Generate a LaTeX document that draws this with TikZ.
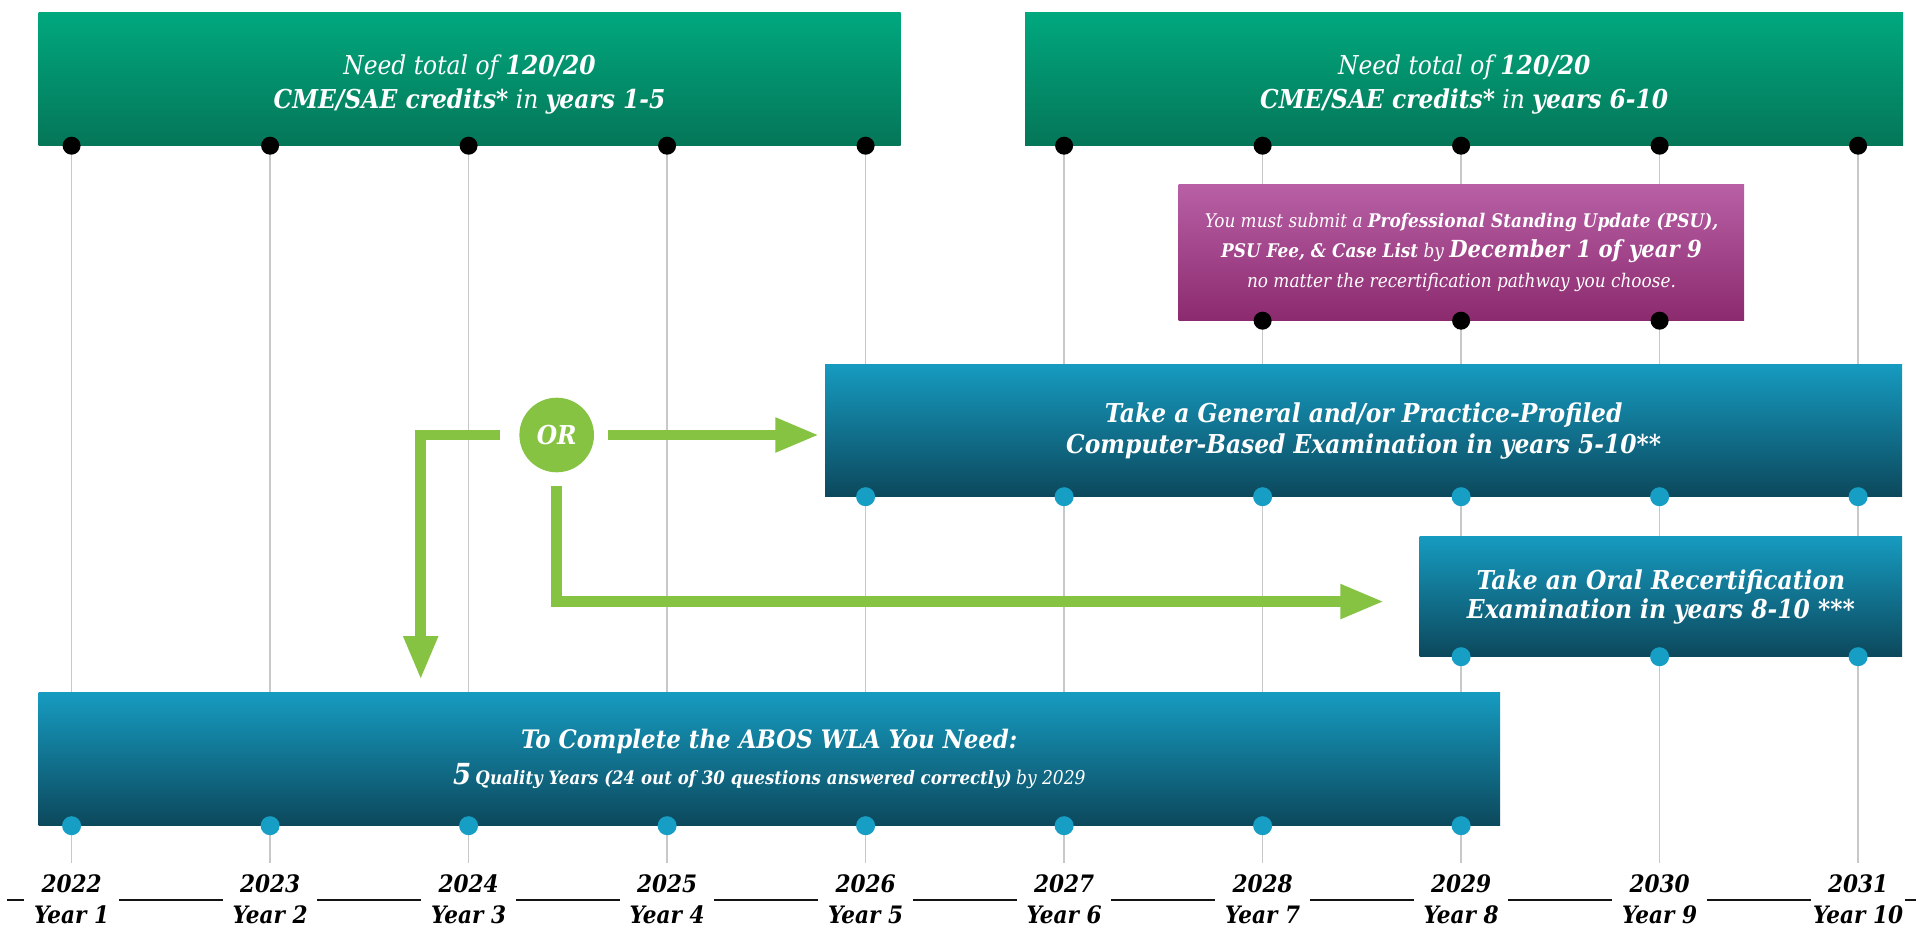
\documentclass[tikz,border=0pt]{standalone}
\usepackage{fontspec}
\setmainfont{DejaVu Serif Condensed}
\usetikzlibrary{arrows.meta,calc}
\definecolor{gtop}{RGB}{0,168,126}
\definecolor{gbot}{RGB}{5,118,88}
\definecolor{ptop}{RGB}{184,96,166}
\definecolor{pbot}{RGB}{140,42,110}
\definecolor{btop}{RGB}{22,155,192}
\definecolor{bbot}{RGB}{12,72,92}
\definecolor{bdot}{RGB}{22,158,196}
\definecolor{garr}{RGB}{134,195,66}
\definecolor{gline}{RGB}{200,200,200}
\definecolor{baseln}{RGB}{20,20,20}
\begin{document}
\begin{tikzpicture}[x=1pt,y=-1pt,
  box/.style={rectangle, inner sep=0pt, anchor=north west, text=white, align=center},
  greenbox/.style={box, top color=gtop, bottom color=gbot, minimum height=133pt, font=\fontsize{26}{34}\selectfont\itshape},
  purplebox/.style={box, top color=ptop, bottom color=pbot, font=\fontsize{18.8}{30}\selectfont\itshape},
  bluebox/.style={box, top color=btop, bottom color=bbot, font=\fontsize{25.5}{36}\selectfont\bfseries\itshape},
  blackdot/.style={circle, fill=black, minimum size=18pt, inner sep=0pt},
  bluedot/.style={circle, fill=bdot, minimum size=19pt, inner sep=0pt},
  gridline/.style={draw=gline, line width=1.5pt},
  baseseg/.style={draw=baseln, line width=2pt},
  yearlabel/.style={font=\fontsize{24}{31}\selectfont\bfseries\itshape, align=center, minimum width=94pt, inner sep=0pt},
  garrow/.style={draw=garr, line width=10.7pt, line join=miter, -{Triangle[length=44pt,width=32pt]}},
  ornode/.style={circle, fill=garr, minimum size=74.6pt, inner sep=0pt, text=white, font=\fontsize{26}{26}\selectfont\bfseries\itshape}
]
\fill[white] (0,0) rectangle (1916,927);
\useasboundingbox (0,0) rectangle (1916,927);

% grid lines
\foreach \i in {0,...,9}{
  \pgfmathsetmacro\cx{71.6+198.5*\i}
  \coordinate (gt\i) at (\cx,145.7);
  \coordinate (gb\i) at (\cx,862.7);
  \draw[gridline] (gt\i) -- (gb\i);
}

% boxes
\node[greenbox, minimum width=862pt] (g1) at (38.3,12.7)
  {\rule{0pt}{30pt}Need total of \textbf{120/20}\\\textbf{CME/SAE credits*} in \textbf{years 1-5}};
\node[greenbox, minimum width=878pt] (g2) at (1025,12.7)
  {\rule{0pt}{30pt}Need total of \textbf{120/20}\\\textbf{CME/SAE credits*} in \textbf{years 6-10}};
\node[purplebox, minimum width=565.5pt, minimum height=136.7pt] (psu) at (1178.5,184)
  {You must submit a \textbf{Professional Standing Update (PSU),}\\
   \textbf{PSU Fee, \& Case List} by {\fontsize{23.5}{29}\selectfont\bfseries December 1 of year 9}\\
   no matter the recertification pathway you choose.};
\node[bluebox, minimum width=1077pt, minimum height=132.7pt, font=\fontsize{26}{31}\selectfont\bfseries\itshape] (cbt) at (825,364)
  {Take a General and/or Practice-Profiled\\Computer-Based Examination in years 5-10**};
\node[bluebox, minimum width=482.7pt, minimum height=120.7pt, font=\fontsize{26}{29}\selectfont\bfseries\itshape] (oral) at (1419.3,536)
  {Take an Oral Recertification\\Examination in years 8-10 ***};
\node[bluebox, minimum width=1461.7pt, minimum height=133pt] (wla) at (38.3,692.7)
  {To Complete the ABOS WLA You Need:\\
   {\fontsize{29}{30}\selectfont 5}\,{\fontsize{18.5}{20}\selectfont Quality Years (24 out of 30 questions answered correctly)}\,{\fontsize{19}{20}\selectfont\mdseries by 2029}};

% dots
\foreach \i in {0,...,9}{
  \pgfmathsetmacro\cx{71.6+198.5*\i}
  \node[blackdot] (td\i) at (\cx,145.7) {};
}
\foreach \i in {6,7,8}{
  \pgfmathsetmacro\cx{71.6+198.5*\i}
  \node[blackdot] (pd\i) at (\cx,320.7) {};
}
\foreach \i in {4,...,9}{
  \pgfmathsetmacro\cx{71.6+198.5*\i}
  \node[bluedot] (cd\i) at (\cx,496.7) {};
}
\foreach \i in {7,8,9}{
  \pgfmathsetmacro\cx{71.6+198.5*\i}
  \node[bluedot] (od\i) at (\cx,656.7) {};
}
\foreach \i in {0,...,7}{
  \pgfmathsetmacro\cx{71.6+198.5*\i}
  \node[bluedot] (wd\i) at (\cx,825.7) {};
}

% OR and arrows
\node[ornode] (or) at (556.7,435) {OR};
\draw[garrow, shorten <=19pt, shorten >=12.7pt] (or.west) -| ([xshift=382.4pt]wla.north west);
\draw[garrow, shorten <=13.7pt, shorten >=5.7pt] (or.east) -- (cbt.west |- or.east);
\draw[garrow, shorten <=13pt, shorten >=35pt] (or.south) |- ([yshift=-5pt]oral.west);

% year labels
\foreach \i [evaluate=\i as \n using int(\i+1), evaluate=\i as \yr using int(2022+\i)] in {0,...,9}{
  \pgfmathsetmacro\cx{71.6+198.5*\i}
  \node[yearlabel] (yr\i) at (\cx,899.5) {\yr\\Year \n};
}
\coordinate (bl) at (7,899.5);
\coordinate (br) at (1916,899.5);
\draw[baseseg] (bl) -- (yr0.west);
\foreach \i [evaluate=\i as \j using int(\i+1)] in {0,...,8}{
  \draw[baseseg] (yr\i.east) -- (yr\j.west);
}
\draw[baseseg] (yr9.east) -- (br);
\end{tikzpicture}
\end{document}
